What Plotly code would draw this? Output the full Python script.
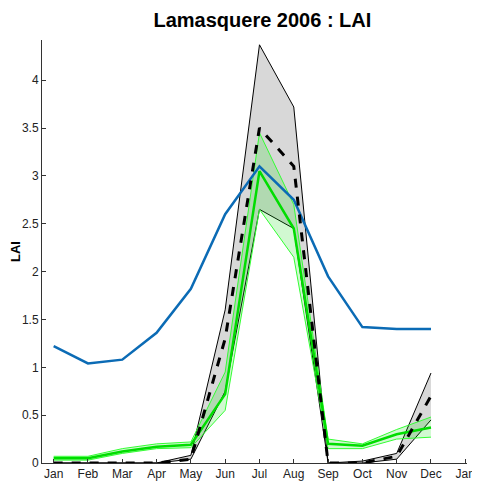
import plotly.graph_objects as go

months = ["Jan","Feb","Mar","Apr","May","Jun","Jul","Aug","Sep","Oct","Nov","Dec"]
tick_labels = months + ["Jan"]
blue = [1.22,1.04,1.08,1.36,1.82,2.6,3.1,2.75,1.95,1.42,1.40,1.40]
obs_mean = [0,0,0,0,0.04,1.3,3.5,3.1,0,0,0.07,0.7]
obs_hi = [0,0,0,0,0.08,1.6,4.37,3.72,0,0.02,0.1,0.94]
obs_lo = [0,0,0,0,0.04,0.75,2.65,2.45,0,0,0.04,0.45]
g_mean = [0.05,0.05,0.12,0.17,0.19,0.72,3.05,2.45,0.2,0.18,0.3,0.37]
g_hi = [0.07,0.07,0.15,0.2,0.22,0.95,3.45,2.7,0.25,0.2,0.35,0.48]
g_lo = [0.03,0.03,0.1,0.15,0.16,0.55,2.65,2.15,0.15,0.15,0.25,0.27]

x = list(range(1, 13))
fig = go.Figure()
fig.add_trace(go.Scatter(x=x, y=obs_lo, mode="lines", line=dict(color="black", width=1)))
fig.add_trace(go.Scatter(x=x, y=obs_hi, mode="lines", line=dict(color="black", width=1),
                         fill="tonexty", fillcolor="rgba(200,200,200,0.7)"))
fig.add_trace(go.Scatter(x=x, y=g_lo, mode="lines", line=dict(color="#33ff33", width=1)))
fig.add_trace(go.Scatter(x=x, y=g_hi, mode="lines", line=dict(color="#33ff33", width=1),
                         fill="tonexty", fillcolor="rgba(0,220,0,0.18)"))
fig.add_trace(go.Scatter(x=x, y=blue, mode="lines", line=dict(color="#0b6bb5", width=2.5)))
fig.add_trace(go.Scatter(x=x, y=g_mean, mode="lines", line=dict(color="#00dd00", width=2.5)))
fig.add_trace(go.Scatter(x=x, y=obs_mean, mode="lines", line=dict(color="black", width=3, dash="dash")))

fig.update_layout(
    width=480, height=484, showlegend=False,
    plot_bgcolor="white", paper_bgcolor="white",
    margin=dict(l=34, r=21, t=32, b=29),
    font=dict(family="Liberation Sans, Arial", size=12, color="#222"),
    title=dict(text="<b>Lamasquere 2006 : LAI</b>", x=0.53, y=0.99, yanchor="top", xanchor="center",
               font=dict(size=20, color="black")),
    xaxis=dict(range=[0.66, 13.05], tickvals=list(range(1, 14)), ticktext=tick_labels,
               showgrid=False, zeroline=False, showline=True, linecolor="#333",
               ticks="inside", ticklen=4, tickcolor="#333", automargin=False),
    yaxis=dict(range=[0, 4.42], tickvals=[0,0.5,1,1.5,2,2.5,3,3.5,4],
               ticktext=["0","0.5","1","1.5","2","2.5","3","3.5","4"],
               showgrid=False, zeroline=False, showline=True, linecolor="#333",
               ticks="inside", ticklen=4, tickcolor="#333", automargin=False,
               title=dict(text="<b>LAI</b>", font=dict(size=13, color="black"), standoff=4)),
)
fig.write_html("out.html")
